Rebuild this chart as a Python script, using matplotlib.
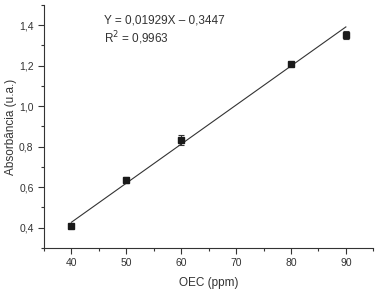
import matplotlib
matplotlib.use('Agg')
import matplotlib.pyplot as plt
import numpy as np
from matplotlib.ticker import MultipleLocator, FuncFormatter

plt.rcParams['font.family'] = ['Liberation Sans', 'DejaVu Sans']

# dados
oec = [40, 50, 60, 80, 90]
absorb = [0.41, 0.637, 0.835, 1.21, 1.352]
erro = [0.008, 0.015, 0.025, 0.008, 0.02]
coef_a = 0.01929
coef_b = -0.3447

fig = plt.figure(figsize=(3.79, 2.90), dpi=100)
ax = fig.add_axes([0.116, 0.145, 0.869, 0.838])

xs = np.array([oec[0], oec[-1]])
ax.plot(xs, coef_a * xs + coef_b, color='#333333', lw=0.8)
ax.errorbar(oec, absorb, yerr=erro, fmt='s', color='#1a1a1a', ms=4.5,
            ecolor='#333333', elinewidth=0.8, capsize=2, capthick=0.8)

ax.set_xlim(35, 95)
ax.set_ylim(0.3, 1.5)
ax.xaxis.set_major_locator(MultipleLocator(10))
ax.xaxis.set_minor_locator(MultipleLocator(5))
ax.yaxis.set_major_locator(MultipleLocator(0.2))
ax.yaxis.set_minor_locator(MultipleLocator(0.1))
ax.xaxis.set_major_formatter(FuncFormatter(lambda v, p: '' if v < 40 or v > 90 else '%d' % v))
ax.yaxis.set_major_formatter(FuncFormatter(lambda v, p: ('%.1f' % v).replace('.', ',')))

for s in ['top', 'right']:
    ax.spines[s].set_visible(False)
for s in ['left', 'bottom']:
    ax.spines[s].set_linewidth(0.8)
    ax.spines[s].set_color('#333333')
ax.tick_params(which='both', direction='out', color='#333333', width=0.8,
               labelsize=7.5, labelcolor='#333333')
ax.tick_params(which='major', length=4)
ax.tick_params(which='minor', length=2.5)

ax.set_xlabel('OEC (ppm)', fontsize=8.5, color='#333333')
ax.set_ylabel('Absorbância (u.a.)', fontsize=8.5, color='#333333')
ax.xaxis.set_label_coords(0.5, -0.12)
ax.yaxis.set_label_coords(-0.082, 0.5)

ax.text(0.183, 0.935, 'Y = 0,01929X \u2013 0,3447', transform=ax.transAxes,
        fontsize=8.5, color='#333333', va='center')
ax.text(0.183, 0.862, 'R$^2$ = 0,9963', transform=ax.transAxes,
        fontsize=8.5, color='#333333', va='center')

fig.savefig('out.png', dpi=100)
